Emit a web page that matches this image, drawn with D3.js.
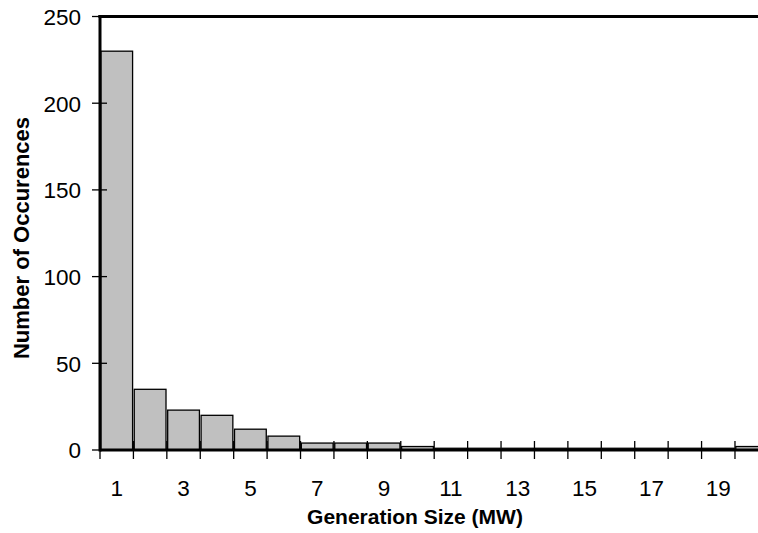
<!DOCTYPE html>
<html>
<head>
<meta charset="utf-8">
<script src="https://cdn.jsdelivr.net/npm/d3@7"></script>
<style>
  html, body { margin: 0; padding: 0; background: #fff; overflow: hidden; }
  svg { display: block; }
  text { font-family: "Liberation Sans", Arial, sans-serif; fill: #000; }
</style>
</head>
<body>
<script>
// Generation size bins (MW) and number of occurrences in each bin
const sizes = [1, 2, 3, 4, 5, 6, 7, 8, 9, 10, 11, 12, 13, 14, 15, 16, 17, 18, 19, 20];
const occurrences = [230, 35, 23, 20, 12, 8, 4, 4, 4, 2, 1, 1, 1, 1, 1, 1, 1, 1, 1, 2];
const yTicks = [0, 50, 100, 150, 200, 250];
const xLabels = [1, 3, 5, 7, 9, 11, 13, 15, 17, 19];

const W = 758, H = 533;
const margin = { left: 100, top: 16.5, bottom: 83 };
const plotW = 668.4;           // plot runs slightly past the right edge of the page
const plotH = H - margin.top - margin.bottom;

const svg = d3.select("body").append("svg")
  .attr("width", W).attr("height", H);

const g = svg.append("g").attr("transform", `translate(${margin.left},${margin.top})`);

const x = d3.scaleBand().domain(sizes).range([0, plotW]).paddingInner(0.05).paddingOuter(0.025);
const y = d3.scaleLinear().domain([0, 250]).range([plotH, 0]);

// bars
g.selectAll("rect.bar").data(sizes).join("rect")
  .attr("class", "bar")
  .attr("x", (d) => x(d))
  .attr("y", (d, i) => y(occurrences[i]))
  .attr("width", x.bandwidth())
  .attr("height", (d, i) => plotH - y(occurrences[i]))
  .attr("fill", "#c0c0c0")
  .attr("stroke", "#000")
  .attr("stroke-width", 1.3);

// y axis: labels plus ticks that cross the axis line
const yAxis = g.append("g").call(
  d3.axisLeft(y).tickValues(yTicks).tickSize(0).tickPadding(19)
);
yAxis.select(".domain").remove();
yAxis.selectAll("text").style("font-size", "22.5px").attr("dy", "0.35em");
g.selectAll("line.ytick").data(yTicks).join("line")
  .attr("class", "ytick")
  .attr("x1", -8).attr("x2", 7)
  .attr("y1", (d) => y(d)).attr("y2", (d) => y(d))
  .attr("stroke", "#000").attr("stroke-width", 1.3);

// x axis ticks at bin boundaries, crossing the axis line
const step = x.step();
const boundaries = d3.range(sizes.length + 1).map((i) => i * step);
g.selectAll("line.xtick").data(boundaries).join("line")
  .attr("class", "xtick")
  .attr("x1", (d) => d).attr("x2", (d) => d)
  .attr("y1", plotH - 9).attr("y2", plotH + 9)
  .attr("stroke", "#000").attr("stroke-width", 1.3);

// x labels on odd bins
const xAxis = g.append("g").attr("transform", `translate(0,${plotH})`).call(
  d3.axisBottom(x).tickValues(xLabels).tickSize(0).tickPadding(38)
);
xAxis.select(".domain").remove();
xAxis.selectAll("text").style("font-size", "22.5px").attr("dy", "0.35em");

// axis lines and top frame
g.append("line").attr("x1", 0).attr("x2", plotW).attr("y1", plotH).attr("y2", plotH)
  .attr("stroke", "#000").attr("stroke-width", 3);
g.append("line").attr("x1", 0).attr("x2", 0).attr("y1", -1.5).attr("y2", plotH + 1.5)
  .attr("stroke", "#000").attr("stroke-width", 3);
g.append("line").attr("x1", -1.5).attr("x2", plotW).attr("y1", 0).attr("y2", 0)
  .attr("stroke", "#000").attr("stroke-width", 3);

// axis titles
svg.append("text")
  .attr("x", 415).attr("y", 517).attr("dy", "0.35em")
  .attr("text-anchor", "middle")
  .style("font-size", "21px").style("font-weight", "bold")
  .text("Generation Size (MW)");
svg.append("text")
  .attr("transform", "translate(21,238) rotate(-90)")
  .attr("dy", "0.35em")
  .attr("text-anchor", "middle")
  .style("font-size", "22px").style("font-weight", "bold")
  .text("Number of Occurences");
</script>
</body>
</html>
